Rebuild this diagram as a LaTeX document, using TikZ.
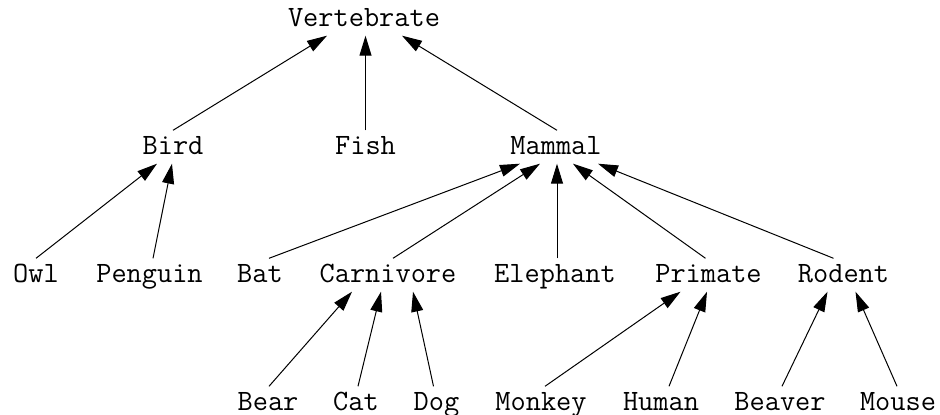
\documentclass[tikz,border=0pt]{standalone}
\usetikzlibrary{arrows.meta, positioning}

\begin{document}
\begin{tikzpicture}[x=1pt, y=-1pt,
  taxon/.style={inner xsep=2pt, inner ysep=7.5pt, text height=16pt, text depth=2pt,
    font=\ttfamily\fontsize{29.5}{32}\selectfont, anchor=base},
  arr/.style={-{Triangle[length=20pt,width=12pt]}, line width=1pt, black}]

  \useasboundingbox (0,0) rectangle (940,415);

  % Root
  \node[taxon] (vert) at (364,26) {Vertebrate};

  % Classes
  \node[taxon] (bird)   at (173,154) {Bird};
  \node[taxon] (fish)   at (365.5,154) {Fish};
  \node[taxon] (mammal) at (556,154) {Mammal};

  % Third row
  \node[taxon] (owl)      at (36,282)    {Owl};
  \node[taxon] (penguin)  at (149.5,282) {Penguin};
  \node[taxon] (bat)      at (260,282)   {Bat};
  \node[taxon] (carniv)   at (388,282)   {Carnivore};
  \node[taxon] (elephant) at (555,282)   {Elephant};
  \node[taxon] (primate)  at (708.5,282) {Primate};
  \node[taxon] (rodent)   at (843.5,282) {Rodent};

  % Bottom row
  \node[taxon] (bear)   at (268,410)   {Bear};
  \node[taxon] (cat)    at (356,410)   {Cat};
  \node[taxon] (dog)    at (436.5,410) {Dog};
  \node[taxon] (monkey) at (541,410)   {Monkey};
  \node[taxon] (human)  at (661,410)   {Human};
  \node[taxon] (beaver) at (780,410)   {Beaver};
  \node[taxon] (mouse)  at (898,410)   {Mouse};

  % Arrows — classes to root
  \draw[arr] (bird.north)   -- ([xshift=-37pt]vert.south);
  \draw[arr] (fish.north)   -- (fish.north |- vert.south);
  \draw[arr] ([xshift=1pt]mammal.north) -- ([xshift=38pt]vert.south);

  % Arrows — third row to classes
  \draw[arr] (owl.north)                    -- ([xshift=-16pt]bird.south);
  \draw[arr] ([xshift=3.5pt]penguin.north)  -- ([xshift=-1pt]bird.south);
  \draw[arr] ([xshift=9pt]bat.north)        -- ([xshift=-36pt]mammal.south);
  \draw[arr] ([xshift=5pt]carniv.north)     -- ([xshift=-16pt]mammal.south);
  \draw[arr] ([xshift=2pt]elephant.north)   -- ([xshift=1pt]mammal.south);
  \draw[arr] ([xshift=-3pt]primate.north)   -- ([xshift=17pt]mammal.south);
  \draw[arr] ([xshift=-10pt]rodent.north)   -- ([xshift=42pt]mammal.south);

  % Arrows — bottom row to third row
  \draw[arr] ([xshift=1pt]bear.north)    -- ([xshift=-36pt]carniv.south);
  \draw[arr] ([xshift=2pt]cat.north)     -- ([xshift=-7pt]carniv.south);
  \draw[arr] ([xshift=-3pt]dog.north)    -- ([xshift=25pt]carniv.south);
  \draw[arr] ([xshift=4pt]monkey.north)  -- ([xshift=-28pt]primate.south);
  \draw[arr] ([xshift=8pt]human.north)   -- ([xshift=-1.5pt]primate.south);
  \draw[arr] ([xshift=2pt]beaver.north)  -- ([xshift=-16pt]rodent.south);
  \draw[arr] ([xshift=-1pt]mouse.north)  -- ([xshift=12pt]rodent.south);
\end{tikzpicture}
\end{document}
